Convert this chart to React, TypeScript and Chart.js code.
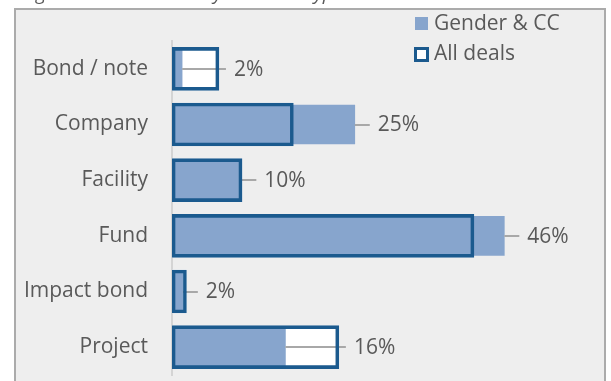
import React, { useEffect, useRef } from 'react';
import { Chart, registerables } from 'chart.js';

Chart.register(...registerables);

const categories = ['Bond / note', 'Company', 'Facility', 'Fund', 'Impact bond', 'Project'];
const genderCC = [1.4, 25.3, 9.6, 46.0, 1.5, 15.7];
const allDeals = [6.5, 16.8, 9.7, 41.8, 2.0, 23.1];
const valueLabels = ['2%', '25%', '10%', '46%', '2%', '16%'];
const legendLabels = ['Gender & CC', 'All deals'];
const titleText = 'Figure 7: Distribution by structure type';

const FILL = '#87A5CD';
const OUTLINE = '#1B5A8E';
const TEXT = '#595959';
const FONT = '"Open Sans", "Noto Sans", sans-serif';
const FS = 21;

const leaderPlugin = {
  id: 'leaderLabels',
  beforeDatasetDraw(chart: any, args: any) {
    if (args.index !== 2) return;
    const ctx = chart.ctx;
    const xs = chart.scales.x;
    const ys = chart.scales.y;
    ctx.save();
    ctx.strokeStyle = '#A8A8A8';
    ctx.lineWidth = 2;
    categories.forEach((_, i) => {
      const gx = xs.getPixelForValue(genderCC[i]);
      const ax = xs.getPixelForValue(allDeals[i]);
      const lx = Math.max(gx + 23, ax + 15);
      const cy = Math.round(ys.getPixelForValue(i));
      ctx.beginPath();
      ctx.moveTo(gx, cy);
      ctx.lineTo(lx - 8, cy);
      ctx.stroke();
    });
    ctx.restore();
  },
  afterDatasetsDraw(chart: any) {
    const ctx = chart.ctx;
    const xs = chart.scales.x;
    const ys = chart.scales.y;
    ctx.save();
    ctx.font = FS + 'px ' + FONT;
    ctx.fillStyle = TEXT;
    ctx.textBaseline = 'middle';
    ctx.textAlign = 'left';
    categories.forEach((_, i) => {
      const gx = xs.getPixelForValue(genderCC[i]);
      const ax = xs.getPixelForValue(allDeals[i]);
      const lx = Math.max(gx + 23, ax + 15);
      const cy = ys.getPixelForValue(i);
      ctx.fillText(valueLabels[i], lx, cy + 1);
    });
    // legend
    ctx.fillStyle = FILL;
    ctx.fillRect(415, 17, 13, 13);
    ctx.fillStyle = '#FFFFFF';
    ctx.fillRect(414, 47, 15, 15);
    ctx.strokeStyle = OUTLINE;
    ctx.lineWidth = 3;
    ctx.strokeRect(415.5, 48.5, 12, 12);
    ctx.fillStyle = TEXT;
    ctx.fillText(legendLabels[0], 434, 24);
    ctx.fillText(legendLabels[1], 434, 54);
    ctx.restore();
  },
};

export default function App() {
  const ref = useRef<HTMLCanvasElement>(null);
  useEffect(() => {
    if (!ref.current) return;
    const chart = new Chart(ref.current, {
      type: 'bar',
      data: {
        labels: categories,
        datasets: [
          {
            label: 'All deals fill',
            data: allDeals,
            backgroundColor: '#FFFFFF',
            borderWidth: 0,
            barThickness: 43,
            order: 3,
          },
          {
            label: legendLabels[0],
            data: genderCC,
            backgroundColor: FILL,
            borderWidth: 0,
            barThickness: 39,
            order: 2,
          },
          {
            label: legendLabels[1],
            data: allDeals,
            backgroundColor: 'rgba(0,0,0,0)',
            borderColor: OUTLINE,
            borderWidth: 3,
            borderSkipped: false,
            barThickness: 43,
            order: 1,
          },
        ],
      } as any,
      options: {
        indexAxis: 'y',
        responsive: false,
        animation: false,
        grouped: false,
        layout: { padding: { left: 0, right: 20, top: 41, bottom: 6 } },
        plugins: { legend: { display: false }, tooltip: { enabled: false } },
        scales: {
          x: { display: false, min: 0, max: 58 },
          y: {
            grid: { display: false, drawTicks: false },
            border: { display: true, color: '#D4D4D4', width: 2 },
            ticks: { color: TEXT, padding: 24, font: { family: FONT, size: FS } },
            afterFit: (s: any) => {
              s.width = 172;
              s.paddingTop = 0;
              s.paddingBottom = 0;
            },
          },
        },
      } as any,
      plugins: [leaderPlugin],
    });
    return () => chart.destroy();
  }, []);

  return (
    <div>
      <div
        style={{
          position: 'fixed', left: 22, top: -16, font: 'italic 19px ' + FONT,
          lineHeight: '19px', color: TEXT, whiteSpace: 'nowrap',
        }}
      >
        {titleText}
      </div>
      <div
        style={{
          position: 'fixed', left: 14, top: 8, width: 592, height: 400, boxSizing: 'border-box',
          border: '2px solid #ABABAB', borderBottom: 'none', background: '#EEEEEE',
        }}
      />
      <canvas
        ref={ref}
        width={611}
        height={381}
        style={{ position: 'fixed', left: 0, top: 0, width: 611, height: 381 }}
      />
    </div>
  );
}
